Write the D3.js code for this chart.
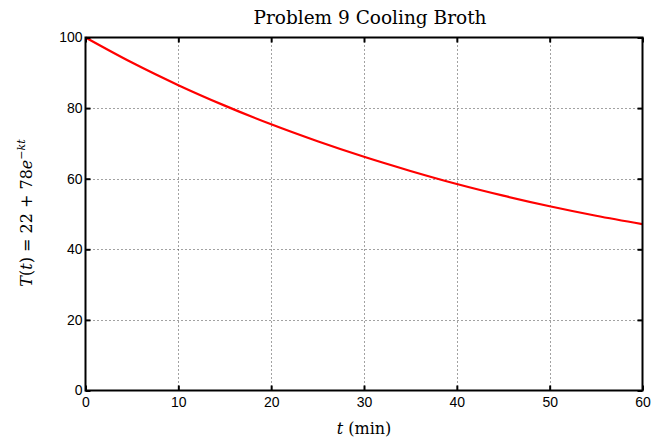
<!DOCTYPE html>
<html><head><meta charset="utf-8">
<script src="https://cdn.jsdelivr.net/npm/d3@7"></script>
<style>body{margin:0;background:#fff}</style>
</head><body>
<svg id="c" width="651" height="444"></svg>
<script>
const times = [0,5,10,15,20,25,30,35,40,45,50,55,60];
const temps = [100,92.9,86.5,80.7,75.4,70.6,66.2,62.2,58.5,55.2,52.2,49.5,47.1];
const xTicks = [0,10,20,30,40,50,60];
const yTicks = [0,20,40,60,80,100];

const svg = d3.select("#c");
const L=85.5, R=642.5, T=37.5, B=390.5;
const x = d3.scaleLinear().domain([0,60]).range([L,R]);
const y = d3.scaleLinear().domain([0,100]).range([B,T]);
const sans = "'Liberation Sans', Arial, sans-serif";
const serif = "'DejaVu Serif', 'Liberation Serif', serif";

// grid
const g = svg.append("g");
g.selectAll(".gx").data(xTicks.slice(1,-1)).enter().append("line")
  .attr("x1",d=>Math.round(x(d))+0.5).attr("x2",d=>Math.round(x(d))+0.5).attr("y1",T).attr("y2",B)
  .attr("stroke","#444").attr("stroke-width",1).attr("stroke-dasharray","1,3");
g.selectAll(".gy").data(yTicks.slice(1,-1)).enter().append("line")
  .attr("y1",d=>Math.round(y(d))+0.5).attr("y2",d=>Math.round(y(d))+0.5).attr("x1",L).attr("x2",R)
  .attr("stroke","#444").attr("stroke-width",1).attr("stroke-dasharray","1,3");

// curve
const line = d3.line().x((d,i)=>x(times[i])).y(d=>y(d)).curve(d3.curveMonotoneX);
svg.append("path").datum(temps).attr("d",line).attr("fill","none")
  .attr("stroke","#ff0000").attr("stroke-width",2.2);

// axes
const ax = svg.append("g").attr("transform",`translate(0,${B})`)
  .call(d3.axisBottom(x).tickValues(xTicks).tickSize(-5).tickPadding(7));
const ay = svg.append("g").attr("transform",`translate(${L},0)`)
  .call(d3.axisLeft(y).tickValues(yTicks).tickSize(-5).tickPadding(3));
const axt = svg.append("g").attr("transform",`translate(0,${T})`)
  .call(d3.axisTop(x).tickValues(xTicks).tickSize(-5).tickFormat(""));
const ayr = svg.append("g").attr("transform",`translate(${R},0)`)
  .call(d3.axisRight(y).tickValues(yTicks).tickSize(-5).tickFormat(""));
[ax,ay,axt,ayr].forEach(a=>{
  a.select(".domain").remove();
  a.selectAll("line").attr("stroke","#000").attr("stroke-width",2);
  a.selectAll("text").attr("font-family",sans).attr("font-size",14).attr("fill","#000");
});
svg.append("rect").attr("x",L).attr("y",T).attr("width",R-L).attr("height",B-T)
  .attr("fill","none").attr("stroke","#000").attr("stroke-width",2);

// title
svg.append("text").attr("x",370).attr("y",24).attr("text-anchor","middle")
  .attr("font-family",serif).attr("font-size",18.5).text("Problem 9 Cooling Broth");
// x label
const xl = svg.append("text").attr("x",(L+R)/2).attr("y",434).attr("text-anchor","middle")
  .attr("font-family",serif).attr("font-size",16);
xl.append("tspan").attr("font-style","italic").text("t");
xl.append("tspan").text(" (min)");
// y label
const yl = svg.append("text").attr("transform",`translate(32,213) rotate(-90)`)
  .attr("text-anchor","middle").attr("font-family",serif).attr("font-size",16);
yl.append("tspan").attr("font-style","italic").text("T");
yl.append("tspan").text("(");
yl.append("tspan").attr("font-style","italic").text("t");
yl.append("tspan").text(") = 22 + 78");
yl.append("tspan").attr("font-style","italic").text("e");
yl.append("tspan").attr("dy",-7).attr("font-size",11).text("−");
yl.append("tspan").attr("font-size",11).attr("font-style","italic").text("kt");
</script>
</body></html>
